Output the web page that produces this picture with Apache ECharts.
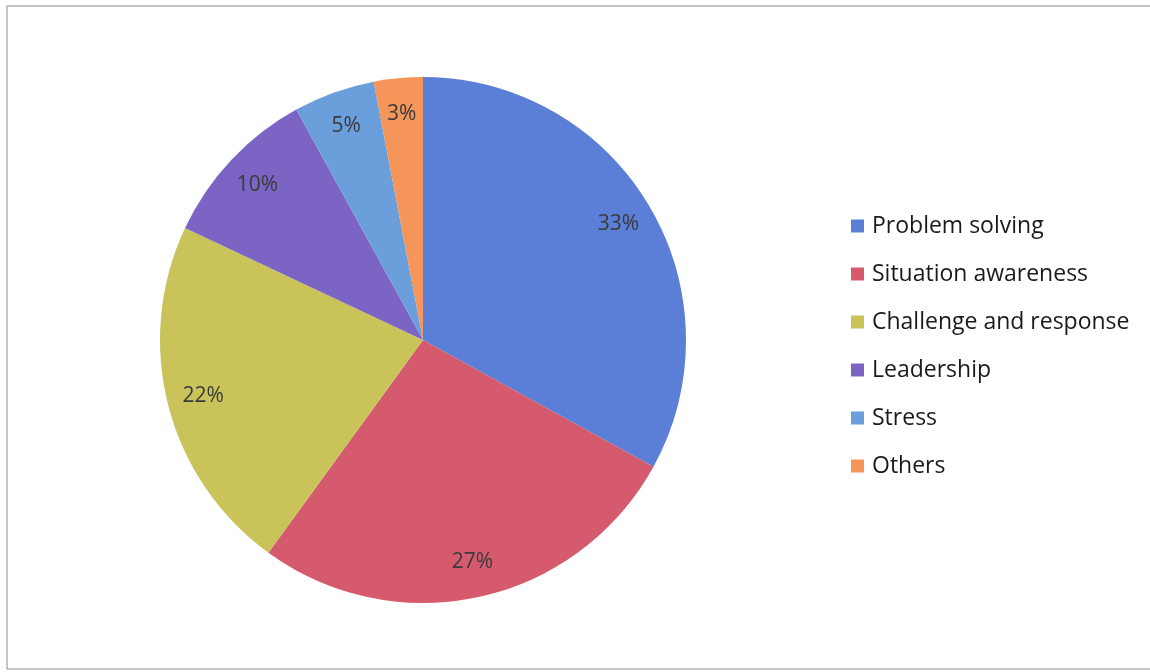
<!DOCTYPE html>
<html>
<head>
<meta charset="utf-8">
<title>Pie chart</title>
<script src="https://cdn.jsdelivr.net/npm/echarts@6/dist/echarts.min.js"></script>
<style>
  html, body { margin: 0; padding: 0; background: #ffffff; }
  #chart { width: 1150px; height: 672px; }
</style>
</head>
<body>
<div id="chart"></div>
<script>
// Share of each category, in percent
const categories = ['Problem solving', 'Situation awareness', 'Challenge and response', 'Leadership', 'Stress', 'Others'];
const values = [33, 27, 22, 10, 5, 3];
const colors = ['#5b7fd6', '#d65a6e', '#c9c35a', '#7b64c4', '#6a9fdc', '#f5955a'];

const FONT = '"Open Sans", "Noto Sans", sans-serif';

const pieData = categories.map((name, i) => ({
  name: name,
  value: values[i],
  itemStyle: { color: colors[i] }
}));

const chart = echarts.init(document.getElementById('chart'));

chart.setOption({
  animation: false,
  backgroundColor: '#ffffff',
  graphic: [{
    type: 'rect',
    shape: { x: 7, y: 6, width: 1160, height: 663 },
    style: { fill: 'none', stroke: '#8a8a8a', lineWidth: 1 },
    silent: true
  }],
  legend: {
    orient: 'vertical',
    left: 851,
    top: 213,
    padding: 0,
    itemWidth: 13,
    itemHeight: 13,
    itemGap: 22,
    icon: 'rect',
    data: categories,
    textStyle: { fontFamily: FONT, fontSize: 23, color: '#1a1a1a', lineHeight: 26, padding: [0, 0, 0, 3] }
  },
  series: [
    {
      // filled slices
      type: 'pie',
      center: [423, 340],
      radius: [0, 263],
      startAngle: 90,
      clockwise: true,
      data: pieData,
      label: { show: false },
      labelLine: { show: false },
      itemStyle: { borderWidth: 0 },
      emphasis: { disabled: true }
    },
    {
      // percentage labels sitting near the rim of each slice
      type: 'pie',
      center: [423, 340],
      radius: [185, 263],
      startAngle: 90,
      clockwise: true,
      silent: true,
      data: categories.map((name, i) => ({ name: name, value: values[i] })),
      itemStyle: { color: 'rgba(0,0,0,0)', borderWidth: 0 },
      label: {
        show: true,
        position: 'inside',
        formatter: p => p.value + '%',
        fontFamily: FONT,
        fontSize: 21,
        color: '#3a3a3a'
      },
      labelLine: { show: false },
      emphasis: { disabled: true }
    }
  ]
});
</script>
</body>
</html>
